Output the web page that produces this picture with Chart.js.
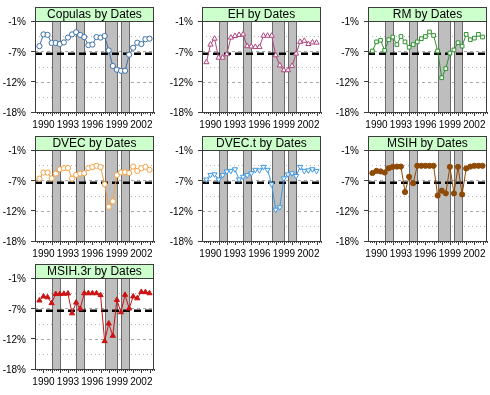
<!DOCTYPE html>
<html>
<head>
<meta charset="utf-8">
<script src="https://cdn.jsdelivr.net/npm/chart.js@4.4.0/dist/chart.umd.min.js"></script>
<style>
  html, body { margin: 0; padding: 0; background: #fff; }
  #wrap { position: relative; width: 490px; height: 395px; overflow: hidden; }
  #wrap canvas { position: absolute; }
</style>
</head>
<body>
<div id="wrap"></div>
<script>
// semiannual dates (decimal years)
const dates = [1989.5, 1990.0, 1990.5, 1991.0, 1991.5, 1992.0, 1992.5, 1993.0, 1993.5, 1994.0,
  1994.5, 1995.0, 1995.5, 1996.0, 1996.5, 1997.0, 1997.5, 1998.0, 1998.5, 1999.0,
  1999.5, 2000.0, 2000.5, 2001.0, 2001.5, 2002.0, 2002.5, 2003.0];

const copulas = [-5.7, -3.5, -3.6, -5.1, -5.1, -5.3, -5.0, -4.1, -3.5, -3.1, -3.6, -4.0, -5.5, -5.4,
  -4.0, -4.1, -3.8, -6.5, -9.4, -10.1, -10.3, -10.3, -7.3, -6.0, -5.05, -5.3, -4.4, -4.3];
const eh = [-8.7, -5.4, -4.3, -7.85, -7.85, -7.2, -4.1, -3.8, -3.6, -3.5, -5.7, -5.75, -5.85, -5.85,
  -3.75, -3.75, -3.75, -7.4, -9.3, -10.2, -10.2, -9.4, -7.1, -4.9, -4.7, -5.3, -5.0, -5.05];
const rm = [-6.6, -4.9, -4.6, -6.5, -4.5, -4.0, -5.4, -3.9, -4.9, -5.9, -5.4, -4.9, -4.3, -3.9,
  -3.05, -3.7, -6.6, -11.6, -9.9, -7.0, -6.4, -5.05, -5.7, -3.5, -4.5, -4.2, -3.5, -4.0];
const dvec = [-6.35, -5.2, -5.2, -6.3, -5.4, -4.6, -4.4, -4.35, -6.35, -5.65, -5.4, -5.35, -4.4, -4.2,
  -3.95, -4.2, -7.4, -11.6, -10.6, -5.7, -5.2, -5.15, -5.3, -4.1, -4.9, -4.4, -4.15, -4.7];
const dvecT = [-6.5, -5.65, -5.55, -6.5, -5.7, -5.0, -4.9, -4.6, -6.5, -6.0, -5.7, -5.35, -4.7, -4.8,
  -4.15, -4.7, -7.4, -12.15, -11.7, -6.3, -5.55, -5.35, -5.85, -4.15, -4.9, -4.8, -4.6, -4.9];
const msih = [-5.3, -4.9, -5.0, -5.2, -4.4, -4.15, -4.1, -4.1, -8.85, -6.0, -7.2, -3.95, -3.95, -3.95,
  -3.95, -3.95, -9.5, -8.6, -9.1, -4.15, -9.1, -4.15, -9.3, -4.45, -4.1, -3.95, -3.95, -3.95];
const msih3r = [-5.2, -4.45, -4.6, -5.7, -4.0, -4.0, -3.95, -3.9, -7.6, -5.6, -6.75, -3.85, -3.85, -3.85,
  -3.85, -4.2, -12.8, -9.5, -11.8, -5.1, -7.4, -4.15, -6.7, -4.45, -4.8, -3.6, -3.65, -3.85];

// shaded periods
const bandStart = [1991.0, 1994.0, 1997.5, 1999.5];
const bandEnd = [1992.0, 1995.0, 1999.0, 2000.5];

const refLevel = -7.1;

const yTickValues = [-18, -15.17, -12.33, -9.5, -6.67, -3.83, -1];
const yTickLabels = ['-18%', '', '-12%', '', '-7%', '', '-1%'];
const xTickValues = [1990, 1993, 1996, 1999, 2002];
const xTickLabels = ['1990', '1993', '1996', '1999', '2002'];

const panels = [
  { name: 'Copulas', data: copulas, color: '#3b6fa8', fill: '#ffffff', shape: 'circle', rot: 0 },
  { name: 'EH', data: eh, color: '#b0457e', fill: '#ffffff', shape: 'triangle', rot: 0 },
  { name: 'RM', data: rm, color: '#2f922f', fill: '#ffffff', shape: 'rect', rot: 0 },
  { name: 'DVEC', data: dvec, color: '#f5a042', fill: '#ffffff', shape: 'circle', rot: 0 },
  { name: 'DVEC.t', data: dvecT, color: '#3d98e6', fill: '#ffffff', shape: 'triangle', rot: 180 },
  { name: 'MSIH', data: msih, color: '#8f4a06', fill: '#8f4a06', shape: 'circle', rot: 0 },
  { name: 'MSIH.3r', data: msih3r, color: '#cc1414', fill: '#cc1414', shape: 'triangle', rot: 0 }
];

const colLeft = [0, 167, 333];
const rowTop = [6, 135, 263];
const FONT = "'Liberation Sans', Arial, sans-serif";

const panelDecor = {
  id: 'panelDecor',
  beforeDatasetsDraw(chart) {
    const { ctx, chartArea: a, scales: { x, y } } = chart;
    ctx.save();
    ctx.beginPath();
    ctx.rect(a.left, a.top, a.right - a.left, a.bottom - a.top);
    ctx.clip();
    // horizontal grid
    ctx.lineWidth = 1;
    yTickValues.forEach((v, i) => {
      const py = Math.round(y.getPixelForValue(v)) + 0.5;
      ctx.strokeStyle = yTickLabels[i] ? '#a8a8a8' : '#b8b8b8';
      ctx.setLineDash(yTickLabels[i] ? [3, 3] : [1, 3]);
      ctx.beginPath();
      ctx.moveTo(a.left, py);
      ctx.lineTo(a.right, py);
      ctx.stroke();
    });
    ctx.setLineDash([]);
    // shaded periods
    bandStart.forEach((s, i) => {
      const x0 = Math.round(x.getPixelForValue(s)) + 0.5;
      const x1 = Math.round(x.getPixelForValue(bandEnd[i])) + 0.5;
      ctx.fillStyle = '#bebebe';
      ctx.fillRect(x0, a.top, x1 - x0, a.bottom - a.top);
      ctx.strokeStyle = '#6a6a6a';
      ctx.strokeRect(x0, a.top - 1, x1 - x0, a.bottom - a.top + 2);
    });
    // reference line
    const ry = y.getPixelForValue(refLevel);
    ctx.strokeStyle = '#000';
    ctx.lineWidth = 2.5;
    ctx.setLineDash([7, 4]);
    ctx.beginPath();
    ctx.moveTo(a.left, ry);
    ctx.lineTo(a.right, ry);
    ctx.stroke();
    ctx.restore();
  },
  afterDraw(chart) {
    const { ctx, chartArea: a, scales: { x } } = chart;
    ctx.save();
    // frame
    ctx.strokeStyle = '#3c3c3c';
    ctx.lineWidth = 1;
    ctx.strokeRect(Math.round(a.left) + 0.5, Math.round(a.top) + 0.5,
      Math.round(a.right - a.left) - 1, Math.round(a.bottom - a.top));
    // x tick marks, quarters short and years long
    ctx.beginPath();
    for (let q = 1989.25; q <= 2003.5; q += 0.25) {
      const px = Math.round(x.getPixelForValue(q)) + 0.5;
      const len = Number.isInteger(q) ? 4 : 2;
      ctx.moveTo(px, a.bottom);
      ctx.lineTo(px, a.bottom + len);
    }
    ctx.stroke();
    // strip
    const top = 1;
    ctx.fillStyle = '#ccffcc';
    ctx.fillRect(a.left, top, a.right - a.left, a.top - top);
    ctx.strokeStyle = '#3c3c3c';
    ctx.strokeRect(Math.round(a.left) + 0.5, top + 0.5, Math.round(a.right - a.left) - 1, Math.round(a.top) - top);
    ctx.fillStyle = '#000';
    ctx.font = '12px ' + FONT;
    ctx.textAlign = 'center';
    ctx.textBaseline = 'middle';
    ctx.fillText(chart.options.stripText, (a.left + a.right) / 2, (top + a.top) / 2 + 1);
    ctx.restore();
  }
};

const wrap = document.getElementById('wrap');

panels.forEach((p, k) => {
  const cv = document.createElement('canvas');
  cv.width = 160;
  cv.height = 128;
  cv.style.left = colLeft[k % 3] + 'px';
  cv.style.top = rowTop[Math.floor(k / 3)] + 'px';
  wrap.appendChild(cv);

  new Chart(cv, {
    type: 'line',
    data: {
      datasets: [{
        data: p.data.map((v, i) => ({ x: dates[i], y: v })),
        borderColor: p.color,
        backgroundColor: p.fill,
        borderWidth: 1,
        pointStyle: p.shape,
        pointRotation: p.rot,
        pointRadius: p.shape === 'triangle' ? 3 : 2.6,
        pointBorderWidth: 1,
        pointBorderColor: p.color,
        pointBackgroundColor: p.fill,
        tension: 0
      }]
    },
    options: {
      stripText: p.name + ' by Dates',
      responsive: false,
      animation: false,
      devicePixelRatio: 1,
      layout: { padding: { top: 15, right: 5, left: 0, bottom: 0 } },
      plugins: { legend: { display: false }, tooltip: { enabled: false } },
      scales: {
        x: {
          type: 'linear',
          min: 1988.96,
          max: 2003.54,
          afterBuildTicks: s => { s.ticks = xTickValues.map(v => ({ value: v })); },
          afterFit: s => { s.height = 22; },
          grid: { display: false, drawTicks: false },
          border: { display: false },
          ticks: {
            autoSkip: false,
            maxRotation: 0,
            padding: 7,
            color: '#000',
            font: { family: FONT, size: 10 },
            callback: (v, i) => xTickLabels[i]
          }
        },
        y: {
          min: -18,
          max: -1,
          afterBuildTicks: s => { s.ticks = yTickValues.map(v => ({ value: v })); },
          afterFit: s => { s.width = 35; },
          grid: {
            drawOnChartArea: false,
            drawTicks: true,
            tickLength: 4,
            tickColor: c => (yTickLabels[c.index] ? '#3c3c3c' : 'rgba(0,0,0,0)')
          },
          border: { display: false },
          ticks: {
            autoSkip: false,
            padding: 5,
            labelOffset: 1.5,
            color: '#000',
            font: { family: FONT, size: 10 },
            callback: (v, i) => yTickLabels[i]
          }
        }
      }
    },
    plugins: [panelDecor]
  });
});
</script>
</body>
</html>
